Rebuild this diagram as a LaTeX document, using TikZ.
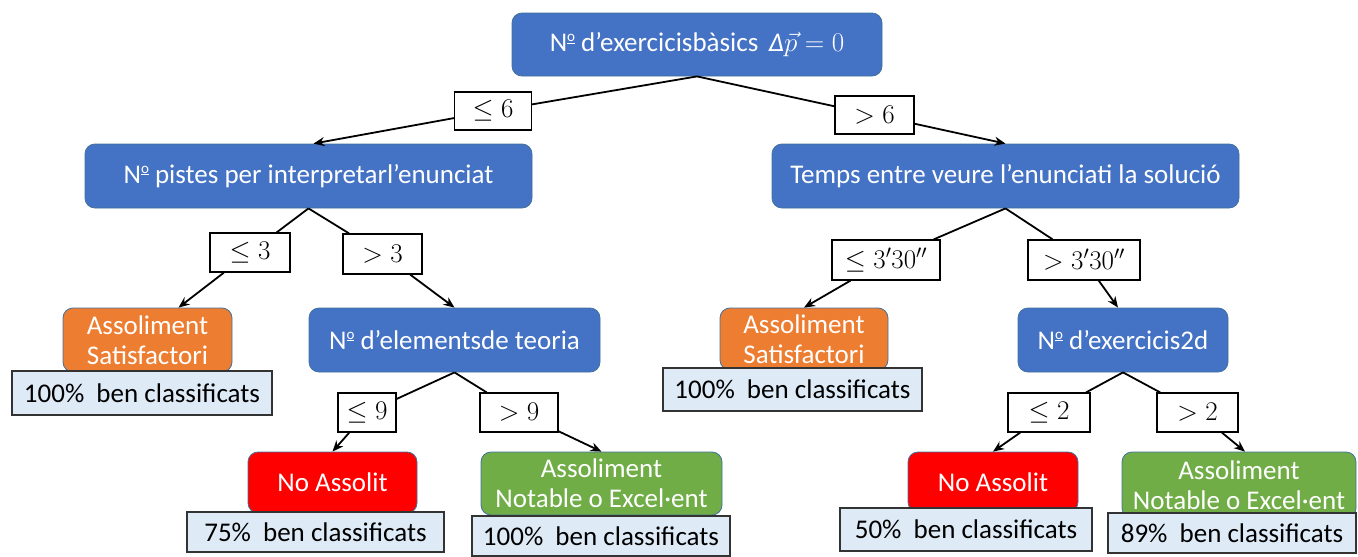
\RequirePackage{fix-cm}
\documentclass[tikz,border=0pt]{standalone}
\usepackage{fontspec}
\setmainfont{Carlito}
\usetikzlibrary{arrows.meta}
\definecolor{cblue}{HTML}{4472C4}
\definecolor{corange}{HTML}{ED7D31}
\definecolor{cred}{HTML}{FF0000}
\definecolor{cgreen}{HTML}{70AD47}
\definecolor{cpale}{HTML}{DEEBF7}
\definecolor{cedge}{HTML}{41719C}
\newcommand\numord{N\raisebox{0.38em}{\fontsize{15}{15}\selectfont\underline{o}}}
\begin{document}
\begin{tikzpicture}[x=1pt,y=-1pt,
  every node/.style={font=\fontsize{27}{31}\selectfont, inner sep=0pt, align=center},
  decision/.style={rounded corners=10pt, fill=cblue, draw=cedge, line width=0.8pt, text=white},
  leafbox/.style={rounded corners=10pt, draw=cedge, line width=0.8pt, text=white},
  pctbox/.style={fill=cpale, draw=black!80, line width=1.2pt},
  condbox/.style={fill=white, draw=black, line width=1.2pt},
  link/.style={line width=1.8pt, black},
  arr/.style={link, -{Stealth[length=11pt,width=9pt]}}
]
\useasboundingbox (0,0) rectangle (1358,557);
% decision nodes
\node[decision, minimum width=370, minimum height=63] (root) at (697,44.5) {\numord\ d’exercicisbàsics\, \textit{Δ}$\vec{p}=0$};
\node[decision, minimum width=447, minimum height=64] (L) at (308.5,176) {\numord\ pistes per interpretarl’enunciat};
\node[decision, minimum width=467, minimum height=64] (R) at (1005.5,176) {Temps entre veure l’enunciati la solució};
\node[decision, minimum width=291, minimum height=64] (elem) at (454.5,340) {\numord\ d’elementsde teoria};
\node[decision, minimum width=210, minimum height=64] (ex2d) at (1123,340) {\numord\ d’exercicis2d};
% leaves
\node[leafbox, fill=corange, minimum width=169, minimum height=64] (orL) at (147.5,340) {Assoliment\\[-1pt]Satisfactori};
\node[leafbox, fill=corange, minimum width=168, minimum height=62] (orR) at (804,339) {Assoliment\\[-1pt]Satisfactori};
\node[leafbox, fill=cred, minimum width=169, minimum height=61] (redL) at (332.5,482.5) {No Assolit};
\node[leafbox, fill=cred, minimum width=170, minimum height=60] (redR) at (993,482) {No Assolit};
\node[leafbox, fill=cgreen, minimum width=241, minimum height=63] (grL) at (601.5,483.5) {Assoliment\\[-1pt]Notable o Excel·ent};
\node[leafbox, fill=cgreen, minimum width=234, minimum height=66] (grR) at (1239,485) {Assoliment\\[-1pt]Notable o Excel·ent};
% percentages
\node[pctbox, minimum width=260, minimum height=44] (pcA) at (142,393) {100\%\hspace{0.45em}ben classificats};
\node[pctbox, minimum width=259, minimum height=43] (pcB) at (792.5,389.5) {100\%\hspace{0.45em}ben classificats};
\node[pctbox, minimum width=257, minimum height=40] (pcC) at (315.5,532) {75\%\hspace{0.45em}ben classificats};
\node[pctbox, minimum width=258, minimum height=40] (pcD) at (601,536) {100\%\hspace{0.45em}ben classificats};
\node[pctbox, minimum width=252, minimum height=43] (pcE) at (966,529.5) {50\%\hspace{0.45em}ben classificats};
\node[pctbox, minimum width=248, minimum height=40] (pcF) at (1232,533) {89\%\hspace{0.45em}ben classificats};
% condition labels
\node[condbox, minimum width=77, minimum height=38] (le6) at (493,111) {$\leq 6$};
\node[condbox, minimum width=79, minimum height=38] (gt6) at (874.5,115) {$>6$};
\node[condbox, minimum width=80, minimum height=39] (le3) at (250,252.5) {$\leq 3$};
\node[condbox, minimum width=79, minimum height=40] (gt3) at (382.5,254) {$>3$};
\node[condbox, minimum width=58, minimum height=39] (le9) at (367,412.5) {$\leq 9$};
\node[condbox, minimum width=78, minimum height=39] (gt9) at (519,412.5) {$>9$};
\node[condbox, minimum width=108, minimum height=40] (le330) at (886,260) {$\leq 3'30''$};
\node[condbox, minimum width=112, minimum height=40] (gt330) at (1084,260) {$>3'30''$};
\node[condbox, minimum width=82, minimum height=39] (le2) at (1049,412.5) {$\leq 2$};
\node[condbox, minimum width=81, minimum height=39] (gt2) at (1197.5,412.5) {$>2$};
% connectors
\draw[link] (root.south) -- (le6);
\draw[arr] (le6) -- ([xshift=5pt]L.north);
\draw[link] (root.south) -- (gt6);
\draw[arr] (gt6) -- (R.north);
\draw[link] (L.south) -- (le3);
\draw[arr] (le3) -- ([xshift=31pt]orL.north);
\draw[link] (L.south) -- (gt3);
\draw[arr] (gt3) -- (elem.north);
\draw[link] (elem.south) -- (le9);
\draw[arr] (le9) -- (redL.north);
\draw[link] (elem.south) -- (gt9);
\draw[arr] (gt9) -- (grL.north);
\draw[link] (R.south) -- (le330);
\draw[arr] (le330) -- (orR.north);
\draw[link] (R.south) -- (gt330);
\draw[arr] (gt330) -- ([xshift=-5pt]ex2d.north);
\draw[link] (ex2d.south) -- (le2);
\draw[arr] (le2) -- (redR.north);
\draw[link] (ex2d.south) -- (gt2);
\draw[arr] (gt2) -- ([xshift=6pt]grR.north);
\end{tikzpicture}
\end{document}
